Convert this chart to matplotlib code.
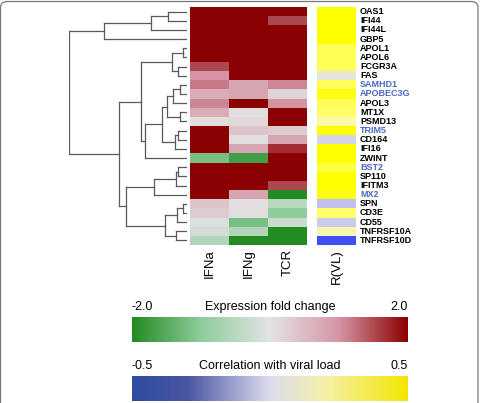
import numpy as np
import matplotlib
matplotlib.use('Agg')
import matplotlib.pyplot as plt
from matplotlib.colors import LinearSegmentedColormap
from matplotlib.patches import FancyBboxPatch

# ==========================
# Datos
# ==========================
genes = ['OAS1', 'IFI44', 'IFI44L', 'GBP5', 'APOL1', 'APOL6', 'FCGR3A', 'FAS',
         'SAMHD1', 'APOBEC3G', 'APOL3', 'MT1X', 'PSMD13', 'TRIM5', 'CD164',
         'IFI16', 'ZWINT', 'BST2', 'SP110', 'IFITM3', 'MX2', 'SPN', 'CD3E',
         'CD55', 'TNFRSF10A', 'TNFRSF10D']
genes_azul = ['SAMHD1', 'APOBEC3G', 'TRIM5', 'BST2', 'MX2']
columnas = ['IFNa', 'IFNg', 'TCR']

ifna = [2, 2, 2, 2, 2, 2, 1.5, 1.0, 1.2, 0.7, 1.1, 0.7, 0.05, 2, 2, 2, -1.2,
        2, 2, 2, 2, 0.4, 0.3, -0.1, -0.2, -0.6]
ifng = [2, 2, 2, 2, 2, 2, 2, 2, 0.8, 0.8, 2, 0.05, 0.15, 0.4, 0.05, 0.8, -1.7,
        2, 2, 2, 0.8, 0.05, 0.05, -1.2, -0.6, -2]
tcr = [2, 1.5, 2, 2, 2, 2, 2, 2, 1.1, 0.2, 1.0, 2, 2, 0.3, 0.8, 1.7, 2,
       2, 2, 1.5, -2, -0.5, -1.0, -0.3, -2, -2]
r_vl = [0.5, 0.5, 0.5, 0.5, 0.3, 0.3, 0.3, 0.02, 0.3, 0.45, 0.3, 0.25, 0.12,
        0.5, -0.05, 0.5, 0.5, 0.35, 0.5, 0.5, 0.45, -0.12, 0.25, -0.08, 0.1, -0.5]

# Dendrograma: (hijo izq, hijo der, altura); nodos internos numerados desde 26
uniones = [
    (0, 1, 19), (26, 2, 36), (27, 3, 83),
    (4, 5, 4), (6, 7, 9), (29, 30, 15),
    (8, 9, 7), (32, 10, 14), (11, 12, 7), (33, 34, 20),
    (13, 14, 9), (36, 15, 12), (35, 37, 25), (38, 16, 42), (31, 39, 46),
    (17, 18, 9), (41, 19, 11), (42, 20, 33),
    (21, 22, 4), (44, 23, 10), (24, 25, 11), (45, 46, 22), (43, 47, 61),
    (40, 48, 68), (28, 49, 118),
]

# ==========================
# Colores
# ==========================
cmap_expr = LinearSegmentedColormap.from_list(
    'expr', [(0, '#228b22'), (0.25, '#8fcc9c'), (0.5, '#e3e3e3'),
             (0.75, '#d596a6'), (1, '#8b0000')])
cmap_vl = LinearSegmentedColormap.from_list(
    'vl', [(0, '#3f4ff2'), (0.4, '#c6c6ee'), (0.5, '#e2e2e2'),
           (0.65, '#ffff9a'), (1, '#ffff00')])
cmap_vl_barra = LinearSegmentedColormap.from_list(
    'vlbar', [(0, '#2d4c9e'), (0.2, '#4a56a4'), (0.5, '#dcdcee'),
              (0.7, '#f5f0a8'), (1, '#f3e600')])

W, H = 480, 403
fig = plt.figure(figsize=(W / 100, H / 100), dpi=100)
plt.rcParams['font.family'] = ['Liberation Sans', 'DejaVu Sans']

def caja(x0, y0, x1, y1):
    return [x0 / W, 1 - y1 / H, (x1 - x0) / W, (y1 - y0) / H]

n = len(genes)

# Heatmap de expresión
ax = fig.add_axes(caja(190, 7, 307, 245))
datos = np.array([ifna, ifng, tcr]).T
ax.imshow(datos, cmap=cmap_expr, vmin=-2, vmax=2, aspect='auto',
          interpolation='nearest')
ax.set_xticks(range(len(columnas)))
ax.set_xticklabels(columnas, rotation=90, fontsize=9.5, va='top')
ax.set_yticks([])
ax.tick_params(axis='x', length=0, pad=3)
for s in ax.spines.values():
    s.set_visible(False)

# Columna R(VL)
ax2 = fig.add_axes(caja(317, 7, 356, 245))
ax2.imshow(np.array(r_vl).reshape(-1, 1), cmap=cmap_vl, vmin=-0.5, vmax=0.5,
           aspect='auto', interpolation='nearest')
ax2.set_xticks([0])
ax2.set_xticklabels(['R(VL)'], rotation=90, fontsize=9.5, va='top')
ax2.set_yticks([])
ax2.tick_params(axis='x', length=0, pad=3)
for s in ax2.spines.values():
    s.set_visible(False)
for i, g in enumerate(genes):
    color = '#4a68c0' if g in genes_azul else 'black'
    ax2.text(1.1, i, g, transform=ax2.get_yaxis_transform(), fontsize=6.5,
             fontweight='bold', color=color, va='center', ha='left')

# Dendrograma
ax3 = fig.add_axes(caja(69, 7, 187, 245))
pos = {i: (0.0, float(i)) for i in range(n)}
for k, (a, b, h) in enumerate(uniones):
    ha_, ya = pos[a]
    hb, yb = pos[b]
    ax3.plot([ha_, h], [ya, ya], color='#5a5a5a', lw=0.9)
    ax3.plot([hb, h], [yb, yb], color='#5a5a5a', lw=0.9)
    ax3.plot([h, h], [ya, yb], color='#5a5a5a', lw=0.9)
    pos[n + k] = (h, (ya + yb) / 2)
ax3.set_xlim(max(u[2] for u in uniones), 0)
ax3.set_ylim(n - 0.5, -0.5)
ax3.axis('off')

# Barras de color
grad = np.linspace(0, 1, 256).reshape(1, -1)
for y0, cm, ext, izq, der, titulo in [
        (317, cmap_expr, 2, '-2.0', '2.0', 'Expression fold change'),
        (376, cmap_vl_barra, 0.5, '-0.5', '0.5', 'Correlation with viral load')]:
    cb = fig.add_axes(caja(132, y0, 408, y0 + 25))
    cb.imshow(grad, cmap=cm, aspect='auto', extent=(-ext, ext, 0, 1))
    cb.set_xticks([])
    cb.set_yticks([])
    for s in cb.spines.values():
        s.set_visible(False)
    cb.text(0, 1.15, izq, transform=cb.transAxes, fontsize=9, ha='left', va='bottom')
    cb.text(1, 1.15, der, transform=cb.transAxes, fontsize=9, ha='right', va='bottom')
    cb.text(0.5, 1.15, titulo, transform=cb.transAxes, fontsize=9, ha='center', va='bottom')

# Marco redondeado (el borde inferior queda fuera de la imagen)
marco = FancyBboxPatch((0.5 / W, -20 / H), 477.5 / W, (H + 18.5) / H,
                       boxstyle='round,pad=0,rounding_size=0.015',
                       transform=fig.transFigure, fill=False,
                       edgecolor='#777777', lw=0.9, clip_on=False)
fig.patches.append(marco)

fig.savefig('out.png', dpi=100)
